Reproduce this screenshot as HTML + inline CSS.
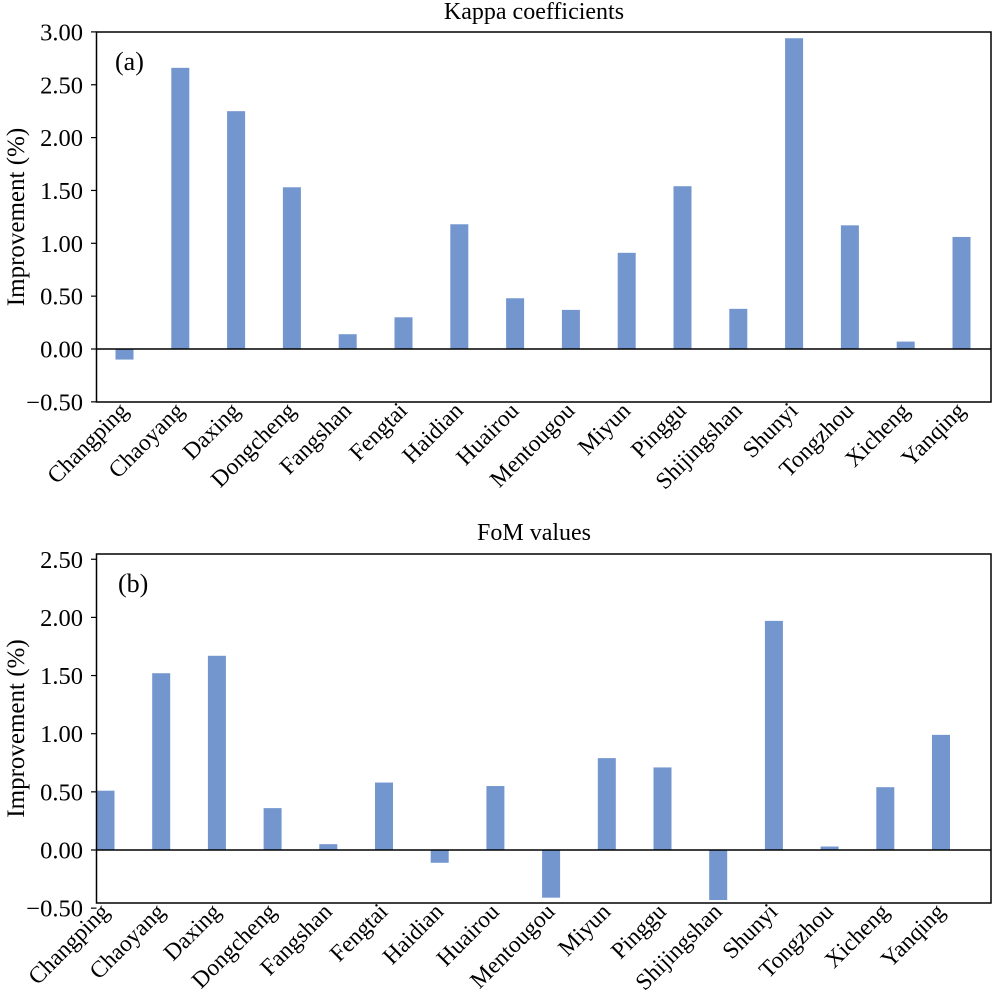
<!DOCTYPE html>
<html><head><meta charset="utf-8"><style>
html,body{margin:0;padding:0;background:#fff;}
svg{display:block;font-family:"Liberation Serif",serif;}
</style></head><body>
<svg width="993" height="1000" viewBox="0 0 993 1000" xmlns="http://www.w3.org/2000/svg">
<g id="top"></g><g id="bot"></g>
</svg>
<script>
const names=["Changping","Chaoyang","Daxing","Dongcheng","Fangshan","Fengtai","Haidian","Huairou","Mentougou","Miyun","Pinggu","Shijingshan","Shunyi","Tongzhou","Xicheng","Yanqing"];
function draw(id,o){
 let s='';
 const y=v=>o.zero-v*o.k;
 s+=`<text x="534" y="${o.ty}" font-size="24" text-anchor="middle">${o.title}</text>`;
 for(let i=0;i<16;i++){
  const cx=o.c0+i*o.dc, v=o.vals[i];
  const y1=Math.min(y(v),o.zero), h=Math.abs(v*o.k);
  s+=`<rect x="${cx-9}" y="${y1}" width="18" height="${h}" fill="#7396cf"/>`;
  s+=`<text transform="translate(${cx+5},${o.by+10}) rotate(-45)" font-size="23.5" text-anchor="end">${names[i]}</text>`;
 }
 s+=`<line x1="96.5" y1="${o.zero}" x2="991" y2="${o.zero}" stroke="#000" stroke-width="1.5"/>`;
 s+=`<rect x="96.5" y="${o.top}" width="894.5" height="${o.by-o.top}" fill="none" stroke="#000" stroke-width="1.5"/>`;
 for(const t of o.ticks){
  s+=`<line x1="91" y1="${y(t)}" x2="96.5" y2="${y(t)}" stroke="#000" stroke-width="1.2"/>`;
  s+=`<text x="83" y="${y(t)+8.5}" font-size="24.5" text-anchor="end">${t<0?'\u2212'+(-t).toFixed(2):t.toFixed(2)}</text>`;
 }
 s+=`<text transform="translate(24,${(o.top+o.by)/2}) rotate(-90)" font-size="25" text-anchor="middle">Improvement (%)</text>`;
 s+=`<text x="${o.lx}" y="${o.top+38}" font-size="26">${o.lab}</text>`;
 document.getElementById(id).innerHTML=s;
}
draw('top',{title:'Kappa coefficients',ty:19,top:32,by:402,zero:349,k:105.7,c0:124.5,dc:55.8,lab:'(a)',lx:115,
 ticks:[3,2.5,2,1.5,1,0.5,0,-0.5],
 vals:[-0.1,2.66,2.25,1.53,0.14,0.30,1.18,0.48,0.37,0.91,1.54,0.38,2.94,1.17,0.07,1.06]});
draw('bot',{title:'FoM values',ty:540,top:554,by:903,zero:850,k:116.3,c0:105.5,dc:55.7,lab:'(b)',lx:118,
 ticks:[2.5,2,1.5,1,0.5,0,-0.5],
 vals:[0.51,1.52,1.67,0.36,0.05,0.58,-0.11,0.55,-0.41,0.79,0.71,-0.43,1.97,0.03,0.54,0.99]});
</script>
</body></html>
